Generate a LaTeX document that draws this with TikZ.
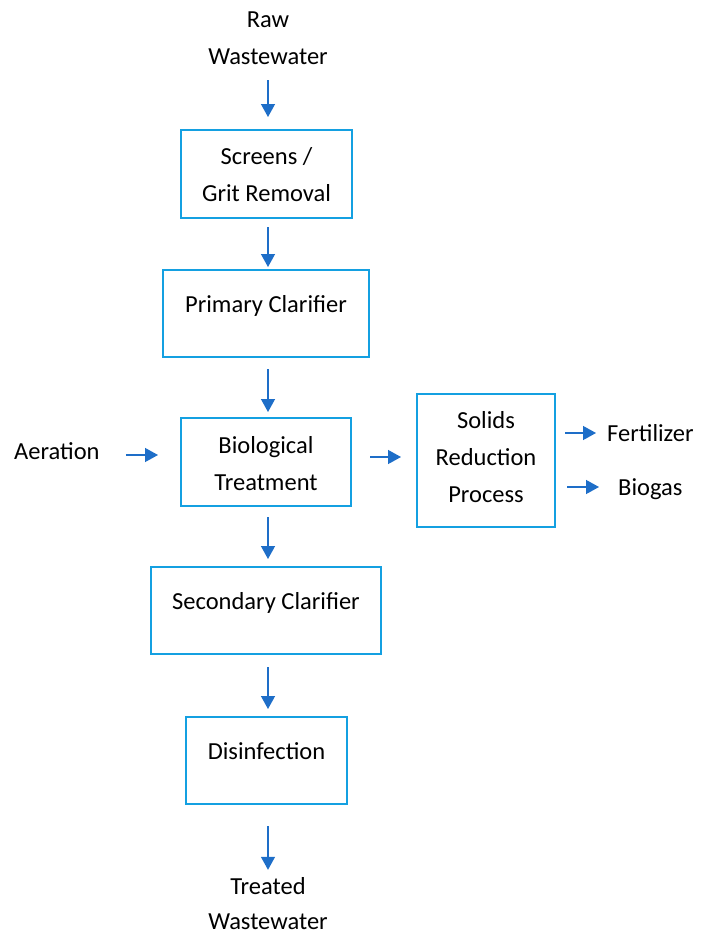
\documentclass[tikz,border=0pt]{standalone}
\usepackage{fontspec}
\setmainfont{Carlito}
\usetikzlibrary{arrows.meta}
\definecolor{boxblue}{RGB}{20,160,225}
\definecolor{arrblue}{RGB}{30,110,200}
\begin{document}
\begin{tikzpicture}[x=1pt,y=-1pt,
  box/.style={draw=boxblue,line width=2pt,rectangle,inner sep=0pt},
  txt/.style={inner sep=0pt,anchor=base,font=\fontsize{24.5}{30}\selectfont,text=black},
  arr/.style={draw=arrblue,line width=1.4pt,-{Triangle[width=14pt,length=13pt]}}]
\useasboundingbox (0,0) rectangle (701,934);
% boxes
\node[box,minimum width=171pt,minimum height=88pt] (screens) at (266.5,174) {};
\node[box,minimum width=206pt,minimum height=87pt] (primary) at (266,313.5) {};
\node[box,minimum width=170pt,minimum height=88pt] (bio) at (266,462) {};
\node[box,minimum width=138pt,minimum height=133pt] (solids) at (486,460.5) {};
\node[box,minimum width=230pt,minimum height=87pt] (secondary) at (266,610.5) {};
\node[box,minimum width=161pt,minimum height=87pt] (disinf) at (266.5,760.5) {};
% texts
\node[txt] (raw1) at (268,28) {Raw};
\node[txt] (raw2) at (268,64) {Wastewater};
\node[txt] (screens1) at (266.5,164) {Screens /};
\node[txt] (screens2) at (266.5,201) {Grit Removal};
\node[txt] (primary1) at (266,312) {Primary Clarifier};
\node[txt] (bio1) at (266,453) {Biological};
\node[txt] (bio2) at (266,490) {Treatment};
\node[txt] (solids1) at (486,428) {Solids};
\node[txt] (solids2) at (486,465) {Reduction};
\node[txt] (solids3) at (486,502) {Process};
\node[txt] (secondary1) at (266,609) {Secondary Clarifier};
\node[txt] (disinf1) at (266.5,759) {Disinfection};
\node[txt] (treated1) at (268,894) {Treated};
\node[txt] (treated2) at (268,929) {Wastewater};
\node[txt,anchor=base west] (aer) at (14,459) {Aeration};
\node[txt,anchor=base west] (fert) at (607,441) {Fertilizer};
\node[txt,anchor=base west] (biogas) at (618,495) {Biogas};
% helper coordinates
\coordinate (ax) at (268,0);
\coordinate (aery) at (0,455);
\coordinate (bsy) at (0,457);
\coordinate (fy) at (0,433);
\coordinate (gy) at (0,487);
% connectors
\draw[arr,shorten <=16pt,shorten >=12pt] (raw2.south -| ax) -- (screens.north -| ax);
\draw[arr,shorten <=8pt,shorten >=2pt] (screens.south -| ax) -- (primary.north -| ax);
\draw[arr,shorten <=11pt,shorten >=5pt] (primary.south -| ax) -- (bio.north -| ax);
\draw[arr,shorten <=10pt,shorten >=7pt] (bio.south -| ax) -- (secondary.north -| ax);
\draw[arr,shorten <=12pt,shorten >=7pt] (secondary.south -| ax) -- (disinf.north -| ax);
\draw[arr,shorten <=21pt,shorten >=7pt] (disinf.south -| ax) -- (treated1.north -| ax);
\draw[arr,shorten <=26pt,shorten >=22pt] (aer.east |- aery) -- (bio.west |- aery);
\draw[arr,shorten <=18pt,shorten >=15pt] (bio.east |- bsy) -- (solids.west |- bsy);
\draw[arr,shorten <=9pt,shorten >=11pt] (solids.east |- fy) -- (fert.west |- fy);
\draw[arr,shorten <=11pt,shorten >=19pt] (solids.east |- gy) -- (biogas.west |- gy);
\end{tikzpicture}
\end{document}
